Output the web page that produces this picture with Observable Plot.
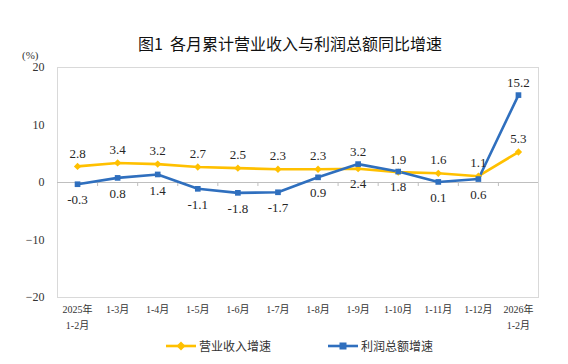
<!DOCTYPE html>
<html><head><meta charset="utf-8">
<script src="https://cdn.jsdelivr.net/npm/d3@7"></script>
<script src="https://cdn.jsdelivr.net/npm/@observablehq/plot@0.6"></script>
<style>
body{margin:0;background:#fff;}
#wrap{position:relative;width:568px;height:364px;overflow:hidden;background:#fff;}
#chart svg{position:absolute;left:0;top:0;}
.title{position:absolute;top:33px;left:0;width:580px;text-align:center;font:16px "Noto Sans CJK SC",sans-serif;color:#111;line-height:20px;}
.unit{position:absolute;top:49px;left:22px;font:11px "Liberation Serif","Noto Sans CJK SC",serif;color:#333;}
.leg{position:absolute;top:338px;display:flex;align-items:center;font:12px "Noto Sans CJK SC",sans-serif;color:#333;line-height:16px;}
.leg svg{margin-right:3px;}
</style></head>
<body>
<div id="wrap">
  <div id="chart"></div>
  <div class="title">图1&nbsp;&nbsp;各月累计营业收入与利润总额同比增速</div>
  <div class="unit">(%)</div>
  <div class="leg" id="leg1" style="left:166px"></div>
  <div class="leg" id="leg2" style="left:328px"></div>
</div>
<script>
const categories = ["2025年\n1-2月","1-3月","1-4月","1-5月","1-6月","1-7月","1-8月","1-9月","1-10月","1-11月","1-12月","2026年\n1-2月"];
const revenue = [2.8, 3.4, 3.2, 2.7, 2.5, 2.3, 2.3, 2.4, 1.8, 1.6, 1.1, 5.3];
const profit  = [-0.3, 0.8, 1.4, -1.1, -1.8, -1.7, 0.9, 3.2, 1.9, 0.1, 0.6, 15.2];
const yTicks = [-20, -10, 0, 10, 20];
const seriesNames = ["营业收入增速", "利润总额增速"];

const YELLOW = "#FFC000", BLUE = "#2F6FBE";
const serif = "Liberation Serif, Noto Sans CJK SC, serif";

const rows = categories.map((c, i) => ({i, c, revenue: revenue[i], profit: profit[i]}));
// label placement rule: the higher series is labelled above
const revAbove = d => !(d.profit > d.revenue && d.profit - d.revenue < 5);
const proAbove = d => d.profit > d.revenue;
const boundaries = d3.range(1, categories.length).map(k => k - 0.5);

const plot = Plot.plot({
  width: 568, height: 364,
  marginTop: 67, marginBottom: 67, marginLeft: 57, marginRight: 30,
  x: {domain: [-0.5, categories.length - 0.5]},
  y: {domain: [-20, 20]},
  style: {background: "transparent"},
  marks: [
    Plot.frame({stroke: "#d9d9d9"}),
    Plot.ruleY([0], {stroke: "#bfbfbf"}),
    Plot.ruleX(boundaries, {x: d => d, y1: 0, y2: 0, insetBottom: -4, stroke: "#bfbfbf"}),
    Plot.axisY({ticks: yTicks, tickSize: 0, tickPadding: 13, fontSize: 12, fontFamily: serif, label: null, fill: "#333"}),
    Plot.axisX({ticks: d3.range(categories.length), tickFormat: i => categories[i], tickSize: 0, tickPadding: 4,
      fontSize: 10, lineHeight: 1.6, fontFamily: serif, label: null, fill: "#333"}),
    Plot.line(rows, {x: "i", y: "revenue", stroke: YELLOW, strokeWidth: 2.6}),
    Plot.line(rows, {x: "i", y: "profit", stroke: BLUE, strokeWidth: 2.6}),
    Plot.dot(rows, {x: "i", y: "revenue", symbol: "diamond2", r: 3.3, fill: YELLOW}),
    Plot.dot(rows, {x: "i", y: "profit", symbol: "square", r: 3.2, fill: BLUE}),
    Plot.text(rows.filter(revAbove), {x: "i", y: "revenue", text: d => d.revenue.toFixed(1), dy: -13, fontSize: 13, fontFamily: serif, fill: "#262626"}),
    Plot.text(rows.filter(d => !revAbove(d)), {x: "i", y: "revenue", text: d => d.revenue.toFixed(1), dy: 15, fontSize: 13, fontFamily: serif, fill: "#262626"}),
    Plot.text(rows.filter(proAbove), {x: "i", y: "profit", text: d => d.profit.toFixed(1), dy: -12, fontSize: 13, fontFamily: serif, fill: "#262626"}),
    Plot.text(rows.filter(d => !proAbove(d)), {x: "i", y: "profit", text: d => d.profit.toFixed(1), dy: 16, fontSize: 13, fontFamily: serif, fill: "#262626"})
  ]
});
document.getElementById("chart").appendChild(plot);

function swatch(color, square) {
  const m = square
    ? `<rect x="11.5" y="2.5" width="7" height="7" fill="${color}"/>`
    : `<path d="M15 1.5 L19.5 6 L15 10.5 L10.5 6 Z" fill="${color}"/>`;
  return `<svg width="30" height="12"><line x1="0" y1="6" x2="30" y2="6" stroke="${color}" stroke-width="2.6"/>${m}</svg>`;
}
document.getElementById("leg1").innerHTML = swatch(YELLOW, false) + `<span>${seriesNames[0]}</span>`;
document.getElementById("leg2").innerHTML = swatch(BLUE, true) + `<span>${seriesNames[1]}</span>`;
</script>
</body></html>
